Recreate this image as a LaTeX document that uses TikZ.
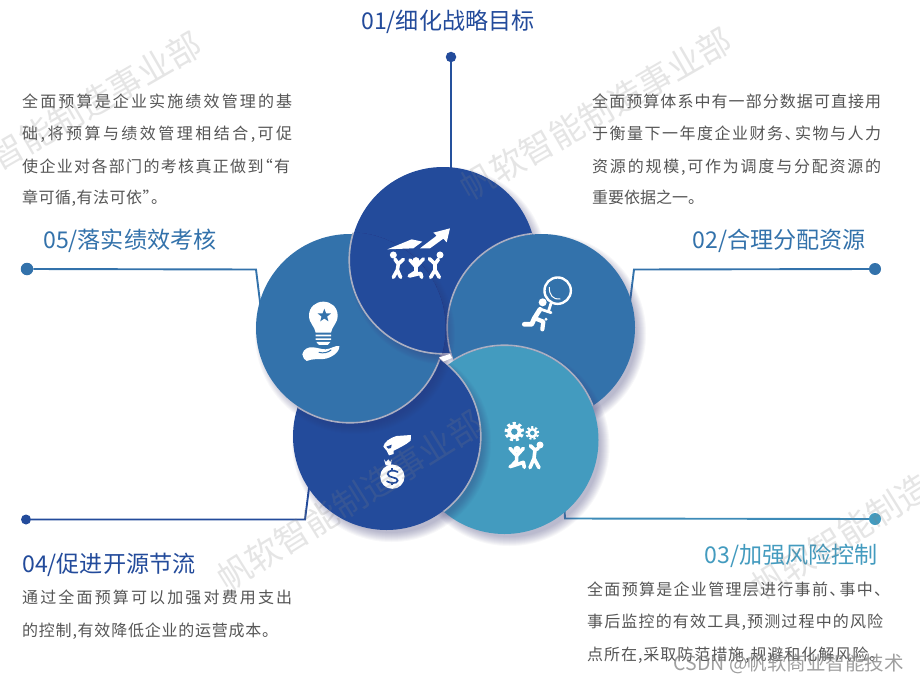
\documentclass[tikz,border=0pt]{standalone}
\usepackage{fontspec}
\usetikzlibrary{shapes.geometric}
\newfontfamily\cjk{Noto Sans CJK SC}
\definecolor{dk}{HTML}{234B9B}
\definecolor{md}{HTML}{3372AB}
\definecolor{tl}{HTML}{439BBF}
\definecolor{bodytxt}{HTML}{555555}
\definecolor{rim}{HTML}{ABAFC2}
\definecolor{shd}{HTML}{3A3A78}
\def\jlend{\jlend}
\def\jlloop#1{\ifx#1\jlend\else #1\hskip 0pt plus 1fil\expandafter\jlloop\fi}
\newcommand\jline[2]{\hbox to #1pt{\jlloop#2\jlend\unskip}}
\def\dun{\hbox to 9pt{、\hss}}
\def\lqt{\hbox to 8pt{\hss“}}
\def\rqt{\hbox to 8pt{”\hss}}
\newcommand\softshadow[3]{\foreach \i in {1,...,10}{\fill[shd,opacity=.04] (#1+5,#2+6)circle[radius=#3pt+7pt-\i pt];}}
\newcommand\gearpic[3]{% centre x y radius
  \fill[white] (#1,#2) circle[radius=#3*.72pt];
  \draw[white,line width=#3*.32pt,dash pattern=on #3*.3pt off #3*.27pt] (#1,#2) circle[radius=#3*.82pt];}
\tikzset{
  disc/.style={circle,inner sep=0pt,minimum size=#1,draw=none},
  head/.style={font=\cjk\fontsize{23.1}{26}\selectfont,inner sep=0pt},
  para/.style={font=\cjk\fontsize{16}{32}\selectfont,text=bodytxt,inner sep=0pt,anchor=base west},
  wm/.style={font=\cjk\fontsize{34}{36}\selectfont,text=gray,opacity=.2,inner sep=0pt},
  lnk/.style={line width=1.9pt},
  dotn/.style={circle,inner sep=0pt,minimum size=#1},
  ic/.style={white,line width=3.6pt,line cap=round,line join=round},
  icsmall/.style={shift={(#1)},x=.3333pt,y=-.3333pt},
}
\begin{document}
\begin{tikzpicture}[x=1pt,y=-1pt]
\useasboundingbox (0,0) rectangle (920,682);
\clip (0,0) rectangle (920,682);
\fill[white] (0,0) rectangle (920,682);
% connector ends
\node[dotn=10.5pt,fill=dk] (d1) at (451,57) {};
\node[dotn=12pt,fill=md] (d2) at (875,269) {};
\node[dotn=12pt,fill=tl] (d3) at (875,519) {};
\node[dotn=10pt,fill=dk] (d4) at (26,519.500) {};
\node[dotn=12.5pt,fill=md] (d5) at (27,269) {};
\coordinate (e1) at (451,180);
\coordinate (k2) at (634,269.500);\coordinate (e2) at (629,310);
\coordinate (k3) at (565,518.500);\coordinate (e3) at (564,500);
\coordinate (k4) at (305,519.500);\coordinate (e4) at (310,480);
\coordinate (k5) at (256,269.500);\coordinate (e5) at (261,310);
\draw[lnk,dk!85!md] (d1) -- (e1);
\draw[lnk,md] (d2) -- (k2) -- (e2);
\draw[lnk,tl!80!dk] (d3) -- (k3) -- (e3);
\draw[lnk,dk] (d4) -- (k4) -- (e4);
\draw[lnk,md] (d5) -- (k5) -- (e5);
% discs, each lies over the one before; the last one is closed by disc 1
\softshadow{443}{260}{93}
\node[disc=186pt,fill=dk] (c1) at (443,260) {};
\softshadow{541.500}{327.500}{93.500}
\node[disc=187pt,fill=md] (c2) at (541.500,327.500) {};
\begin{scope}\clip (c1.center) circle[radius=93pt];\draw[rim,line width=1.6pt] (c2.center) circle[radius=94.3pt];\end{scope}
\softshadow{504.500}{440}{94}
\node[disc=188pt,fill=tl] (c3) at (504.500,440) {};
\begin{scope}\clip (c2.center) circle[radius=93.5pt];\draw[rim,line width=1.6pt] (c3.center) circle[radius=94.8pt];\end{scope}
\softshadow{386.500}{436.500}{93.500}
\node[disc=187pt,fill=dk] (c4) at (386.500,436.500) {};
\begin{scope}\clip (c3.center) circle[radius=94pt];\draw[rim,line width=1.6pt] (c4.center) circle[radius=94.3pt];\end{scope}
\softshadow{350}{328}{94}
\node[disc=188pt,fill=md] (c5) at (350,328) {};
\begin{scope}\clip (c4.center) circle[radius=93.5pt];\draw[rim,line width=1.6pt] (c5.center) circle[radius=94.8pt];\end{scope}
\begin{scope}\clip (c5.center) circle[radius=95.5pt];
\softshadow{443}{260}{93}
\fill[dk] (c1.center) circle[radius=93pt];
\draw[rim,line width=1.6pt] (c1.center) circle[radius=93.8pt];
\end{scope}
% the small white gap at the middle
\fill[white] (439,357.500) -- (450,354) -- (452,358) -- (443.500,361.500) -- cycle;
% icon 1: people raising arrows
\begin{scope}[icsmall={380,220}]
\fill[white] (22,88) -- (95,58) -- (127,65) -- (100,85) -- cycle;
\fill[white] (120,85) -- (170,47) -- (160,38) -- (210,25) -- (200,67) -- (190,56) -- (150,85) -- cycle;
\fill[white] (40,105) circle[radius=3.5pt] (108,122) circle[radius=3.5pt] (180,105) circle[radius=3.5pt];
\draw[ic] (45,118) -- (55,132) -- (70,118) (55,132) -- (52,150) -- (40,172) (52,150) -- (62,172);
\draw[ic] (90,120) -- (108,140) -- (130,117) (108,140) -- (108,155) -- (88,168) (88,168) -- (122,160) -- (125,172);
\draw[ic] (175,118) -- (165,132) -- (148,116) (165,132) -- (165,150) -- (152,172) (165,150) -- (178,172);
\end{scope}
% icon 2: runner with magnifier
\begin{scope}[icsmall={515,270}]
\draw[white,line width=2.4pt] (128,62) circle[radius=13.2pt];
\draw[white,line width=1pt,line cap=round] (103,52) .. controls (102,75) and (115,90) .. (135,87);
\draw[ic,line width=2.8pt] (108,100) -- (100,125);
\fill[white] (83,97) circle[radius=4pt];
\draw[ic,line width=4.8pt] (75,118) -- (58,145) -- (50,163) -- (28,163);
\draw[ic,line width=4.2pt] (60,145) -- (85,155) -- (82,178);
\draw[ic,line width=2.8pt] (78,118) -- (108,128);
\fill[white] (93,148) circle[radius=1.6pt];
\end{scope}
% icon 3: gears and people
\begin{scope}[icsmall={495,415}]
\gearpic{58}{50}{10}
\gearpic{112}{54}{7}
\fill[tl] (58,50) circle[radius=3.2pt];
\fill[tl] (112,54) circle[radius=2.300pt];
\fill[white] (66,103) circle[radius=3.5pt] (135,90) circle[radius=3.5pt];
\draw[ic] (45,100) -- (65,122) -- (85,100) (65,122) -- (65,137) -- (48,155) (45,155) -- (85,142) -- (88,157);
\draw[ic] (106,92) -- (120,105) -- (130,100) (120,105) -- (117,130) -- (105,158) (117,130) -- (132,158);
\end{scope}
% icon 4: hand and money bag
\begin{scope}[icsmall={365,430}]
\fill[white] (138,15) -- (95,18) .. controls (72,25) and (58,36) .. (55,50) -- (65,62) -- (72,76) -- (86,72) -- (86,62) .. controls (100,55) and (122,45) .. (137,32) -- cycle;
\fill[dk] (64,50) -- (80,44) -- (78,54) -- (70,56) -- cycle;
\fill[white] (57,88) -- (63,96) -- (70,88) -- (76,96) -- (80,88) -- (78,106) -- (62,106) -- cycle;
\fill[white] (82,140) circle[radius=12.2pt];
\draw[dk,line width=1.7pt,line cap=round] (98,126) .. controls (85,118) and (68,122) .. (68,132) .. controls (68,145) and (100,140) .. (98,152) .. controls (96,162) and (76,160) .. (66,154);
\draw[dk,line width=1.7pt] (82,114) -- (82,122) (82,158) -- (82,166);
\end{scope}
% icon 5: bulb on a hand
\begin{scope}[icsmall={295,295}]
\fill[white] (62,113) .. controls (60,95) and (42,85) .. (42,62) .. controls (42,36) and (62,20) .. (85,20) .. controls (108,20) and (128,36) .. (128,62) .. controls (128,85) and (110,95) .. (108,113) -- cycle;
\node[star,star points=5,star point ratio=2.4,fill=md,inner sep=0pt,minimum size=14pt] (starn) at (88,62) {};
\fill[white] (62,119) rectangle (108,124) (62,130) rectangle (108,135);
\fill[white] (64,141) -- (106,141) -- (98,150) -- (72,150) -- cycle;
\fill[white] (22,178) .. controls (25,162) and (40,155) .. (55,157) .. controls (68,158) and (78,163) .. (92,163) .. controls (105,163) and (122,150) .. (133,153) .. controls (135,170) and (110,190) .. (85,192) .. controls (65,194) and (55,190) .. (35,198) .. controls (28,195) and (24,188) .. (22,178) -- cycle;
\draw[md,line width=1pt,line cap=round] (72,172) .. controls (85,176) and (100,172) .. (108,165);
\end{scope}
% headings
\node[head,text=dk,anchor=base west] (h1) at (361,30) {01/细化战略目标};
\node[head,text=md,anchor=base east] (h2) at (866,248) {02/合理分配资源};
\node[head,text=tl,anchor=base east] (h3) at (878,563) {03/加强风险控制};
\node[head,text=dk,anchor=base west] (h4) at (22,572) {04/促进开源节流};
\node[head,text=md,anchor=base west] (h5) at (43,248) {05/落实绩效考核};
% paragraphs
\node[para] (p1) at (22,108) {\vtop{\baselineskip=32pt\lineskiplimit=-99pt
 \jline{270}{全面预算是企业实施绩效管理的基}
 \jline{270}{础,将预算与绩效管理相结合,可促}
 \jline{268}{使企业对各部门的考核真正做到\lqt 有}
 \jline{145}{章可循,有法可依\rqt 。}}};
\node[para] (p2) at (592,108) {\vtop{\baselineskip=32pt\lineskiplimit=-99pt
 \jline{289}{全面预算体系中有一部分数据可直接用}
 \jline{289}{于衡量下一年度企业财务\dun 实物与人力}
 \jline{289}{资源的规模,可作为调度与分配资源的}
 \jline{111}{重要依据之一。}}};
\node[para] (p3) at (587,595) {\vtop{\baselineskip=32.500pt\lineskiplimit=-99pt
 \jline{296}{全面预算是企业管理层进行事前\dun 事中\dun}
 \jline{296}{事后监控的有效工具,预测过程中的风险}
 \jline{298}{点所在,采取防范措施,规避和化解风险。}}};
\node[para] (p4) at (22,603) {\vtop{\baselineskip=33pt\lineskiplimit=-99pt
 \jline{270}{通过全面预算可以加强对费用支出}
 \jline{256}{的控制,有效降低企业的运营成本。}}};
% watermarks
\node[wm,rotate=30] (w1) at (66,118) {帆软智能制造事业部};
\node[wm,rotate=30] (w2) at (596,114) {帆软智能制造事业部};
\node[wm,rotate=32] (w3) at (350,501) {帆软智能制造事业部};
\node[wm,rotate=32] (w4) at (884,510) {帆软智能制造事业部};
\node[font=\cjk\fontsize{19.500}{22}\selectfont,text=gray,opacity=.75,anchor=base east,inner sep=0pt] (csdn) at (904,670) {CSDN @帆软商业智能技术};
\end{tikzpicture}
\end{document}
